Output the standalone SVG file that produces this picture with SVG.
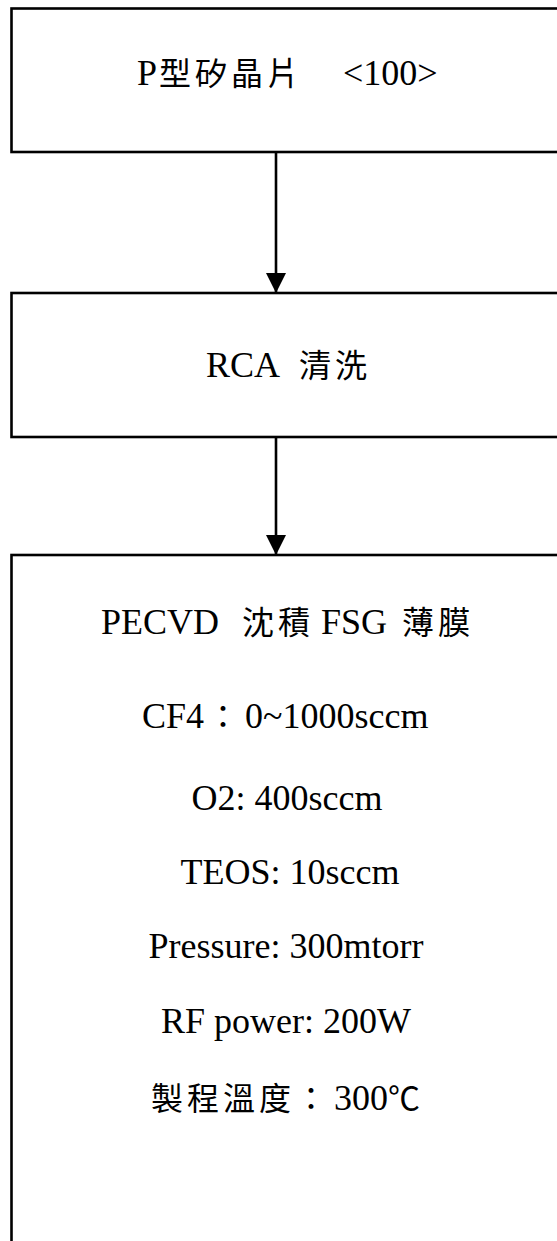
<svg xmlns="http://www.w3.org/2000/svg" width="557" height="1241" viewBox="0 0 557 1241">
<style>
.box{fill:#fff;stroke:#000;stroke-width:2.6}
.conn{stroke:#000;stroke-width:2.6;fill:none}
.t{font-family:"Liberation Serif","Noto Sans CJK TC",serif;font-size:36px;fill:#000}
.cjk{font-family:"Noto Sans CJK TC","Liberation Serif",sans-serif;font-size:32px;letter-spacing:4px}
</style>
<defs>
<marker id="arr" markerUnits="userSpaceOnUse" markerWidth="20" markerHeight="20" refX="20" refY="10" orient="auto" viewBox="0 0 20 20">
<path d="M0,0 L20,10 L0,20 z" fill="#000"/>
</marker>
</defs>
<rect width="557" height="1241" fill="#fff"/>
<g id="connectors">
<line class="conn" x1="276" y1="152" x2="276" y2="293" marker-end="url(#arr)"/>
<line class="conn" x1="276" y1="437" x2="276" y2="555" marker-end="url(#arr)"/>
</g>
<g id="node1">
<rect class="box" x="11.5" y="8.5" width="600" height="143.5"/>
<text class="t" y="85"><tspan x="137">P</tspan><tspan class="cjk" x="159">型矽晶片</tspan><tspan x="343">&lt;100&gt;</tspan></text>
</g>
<g id="node2">
<rect class="box" x="11.5" y="293" width="600" height="144"/>
<text class="t" y="377"><tspan x="206">RCA</tspan><tspan class="cjk" x="299">清洗</tspan></text>
</g>
<g id="node3">
<rect class="box" x="11.5" y="555" width="600" height="720"/>
<text class="t" y="634"><tspan x="101">PECVD</tspan><tspan class="cjk" x="242">沈積</tspan><tspan x="321">FSG</tspan><tspan class="cjk" x="402">薄膜</tspan></text>
<text class="t" y="728"><tspan x="142">CF4</tspan><tspan class="cjk" x="207">：</tspan><tspan x="245">0~1000sccm</tspan></text>
<text class="t" x="287" y="810" text-anchor="middle">O2: 400sccm</text>
<text class="t" x="290" y="884" text-anchor="middle">TEOS: 10sccm</text>
<text class="t" x="286" y="958" text-anchor="middle">Pressure: 300mtorr</text>
<text class="t" x="286" y="1033" text-anchor="middle">RF power: 200W</text>
<text class="t" y="1110"><tspan class="cjk" x="151">製程溫度：</tspan><tspan x="334">300</tspan><tspan class="cjk" x="388">℃</tspan></text>
</g>
</svg>
